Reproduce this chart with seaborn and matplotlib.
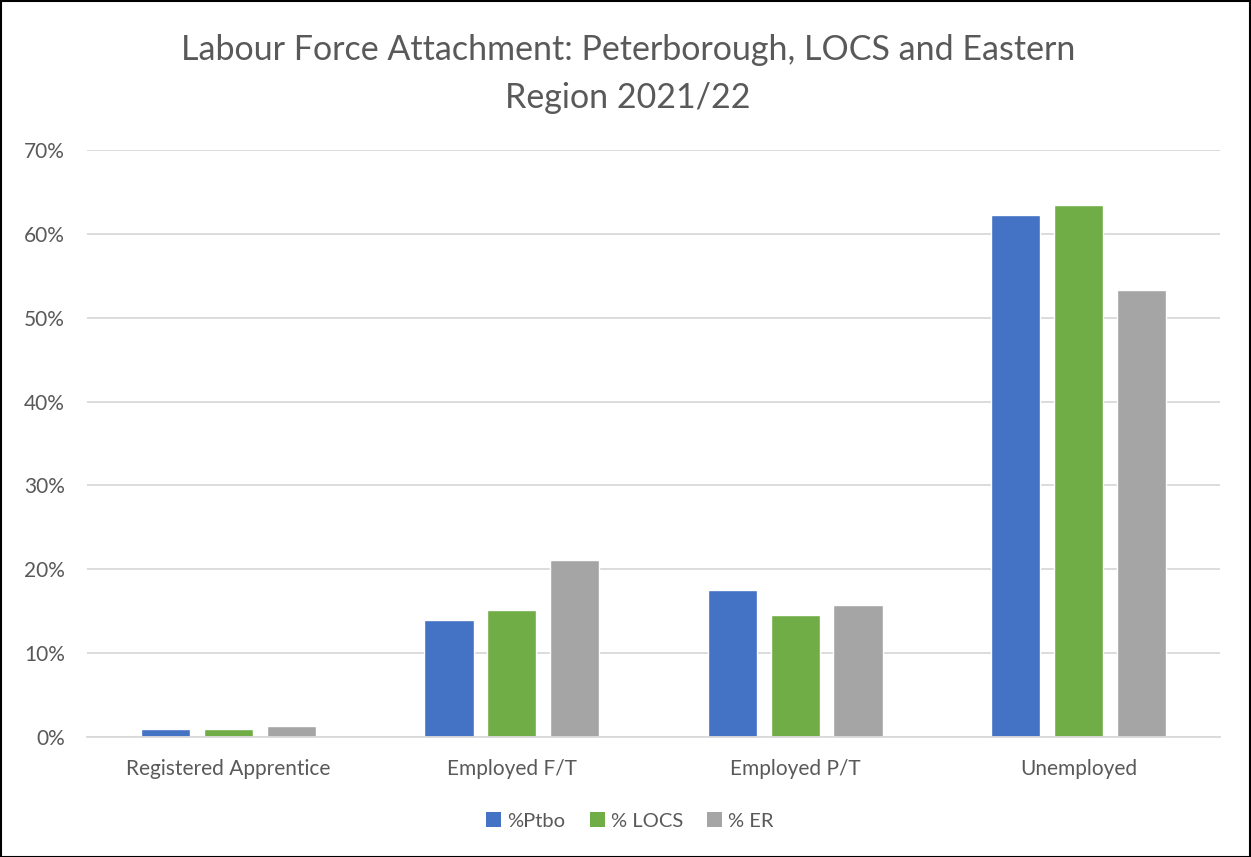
import matplotlib
matplotlib.use("Agg")
import matplotlib.pyplot as plt
import seaborn as sns
import pandas as pd
from matplotlib.patches import Patch, Rectangle
from matplotlib.ticker import PercentFormatter

categories = ["Registered Apprentice", "Employed F/T", "Employed P/T", "Unemployed"]
series_names = ["%Ptbo", "% LOCS", "% ER"]
ptbo = [1.0, 13.9, 17.5, 62.2]
locs = [1.0, 15.1, 14.5, 63.4]
er = [1.35, 21.1, 15.8, 53.3]
colors = ["#4472C4", "#70AD47", "#A5A5A5"]
yticks = [0, 10, 20, 30, 40, 50, 60, 70]

rows = []
for name, vals in zip(series_names, [ptbo, locs, er]):
    for c, v in zip(categories, vals):
        rows.append({"category": c, "series": name, "value": v})
df = pd.DataFrame(rows)

sns.set_theme(style="white")
plt.rcParams['font.family'] = ['Lato', 'DejaVu Sans']

fig = plt.figure(figsize=(12.51, 8.57), dpi=100)
ax = fig.add_axes([87/1251, 1 - 737/857, (1220-87)/1251, (737-150)/857])

sns.barplot(data=df, x="category", y="value", hue="series", order=categories,
            hue_order=series_names, palette=colors, width=0.666, gap=0.22,
            saturation=1, ax=ax, legend=False, errorbar=None)

ax.set_xlim(-0.5, 3.5)
ax.set_ylim(0, 70)
ax.set_yticks(yticks)
ax.yaxis.set_major_formatter(PercentFormatter(decimals=0))
ax.grid(axis="y", color="#D9D9D9", linewidth=1.3)
ax.set_axisbelow(True)
for s in ["top", "right", "left"]:
    ax.spines[s].set_visible(False)
ax.spines["bottom"].set_color("#D9D9D9")
ax.spines["bottom"].set_linewidth(1.3)
ax.tick_params(axis="both", length=0, labelsize=15, colors="#595959")
ax.tick_params(axis="x", pad=16)
ax.tick_params(axis="y", pad=16)
ax.set_xlabel("")
ax.set_ylabel("")

fig.text(628/1251, 1 - 74/857, "Labour Force Attachment: Peterborough, LOCS and Eastern\nRegion 2021/22",
         ha="center", va="center", fontsize=24.5, color="#595959", linespacing=1.6)

handles = [Patch(facecolor=c, edgecolor="none", label=n) for c, n in zip(colors, series_names)]
fig.legend(handles=handles, loc="center", bbox_to_anchor=(630/1251, 1 - 821/857), ncol=3,
           frameon=False, fontsize=14.5, labelcolor="#595959", handlelength=0.75, handleheight=0.75,
           handletextpad=0.3, columnspacing=1.2)

fig.patches.append(Rectangle((0.5/1251, 0.5/857), 1 - 1.5/1251, 1 - 1.5/857, transform=fig.transFigure,
                             fill=False, edgecolor="black", linewidth=1.5))

fig.savefig("out.png", dpi=100)
